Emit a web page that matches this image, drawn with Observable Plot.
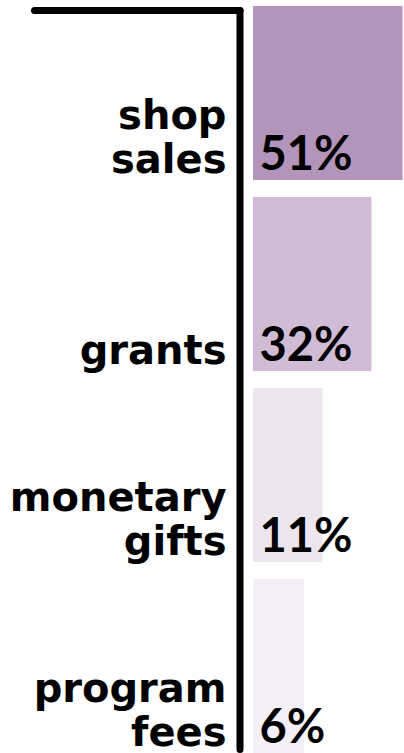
<!DOCTYPE html>
<html>
<head>
<meta charset="utf-8">
<script src="https://cdn.jsdelivr.net/npm/d3@7"></script>
<script src="https://cdn.jsdelivr.net/npm/@observablehq/plot@0.6"></script>
<style>
  html, body { margin: 0; padding: 0; background: #fff; }
  #chart svg { display: block; }
</style>
</head>
<body>
<div id="chart"></div>
<script>
const categories = ["shop sales", "grants", "monetary gifts", "program fees"];
const labels = ["shop\nsales", "grants", "monetary\ngifts", "program\nfees"];
const values = [51, 32, 11, 6];
const barColors = ["#b394ba", "#d1bcd5", "#ede6ef", "#f5f0f7"];

const data = categories.map((c, i) => ({category: c, label: labels[i], value: values[i]}));

const chart = Plot.plot({
  width: 404,
  height: 753,
  marginLeft: 253,
  marginRight: 0,
  marginTop: 6,
  marginBottom: 0,
  x: {type: "sqrt", domain: [0, 52], axis: null},
  y: {domain: categories, paddingInner: 0.09, paddingOuter: 0, axis: null},
  color: {domain: categories, range: barColors},
  marks: [
    Plot.barX(data, {x: "value", y: "category", fill: "category"}),
    Plot.frame({anchor: "left", insetLeft: -13.5, insetTop: 4, insetBottom: 4, stroke: "#000", strokeWidth: 7, strokeLinecap: "round"}),
    Plot.frame({anchor: "top", insetLeft: -219, insetRight: 164.5, insetTop: 4, stroke: "#000", strokeWidth: 7, strokeLinecap: "round"}),
    Plot.text(data, {
      x: 0, y: "category", text: "label",
      textAnchor: "end", dx: -27, lineAnchor: "bottom", dy: 79, lineHeight: 1.1,
      fontSize: 40, fontFamily: "DejaVu Sans", fontWeight: "bold", fill: "#000"
    }),
    Plot.text(data, {
      x: 0, y: "category", text: d => d.value + "%",
      textAnchor: "start", dx: 6, lineAnchor: "bottom", dy: 76,
      fontSize: 47, fontFamily: "Lato", fontWeight: "bold", fill: "#000"
    })
  ]
});
document.getElementById("chart").appendChild(chart);
</script>
</body>
</html>
